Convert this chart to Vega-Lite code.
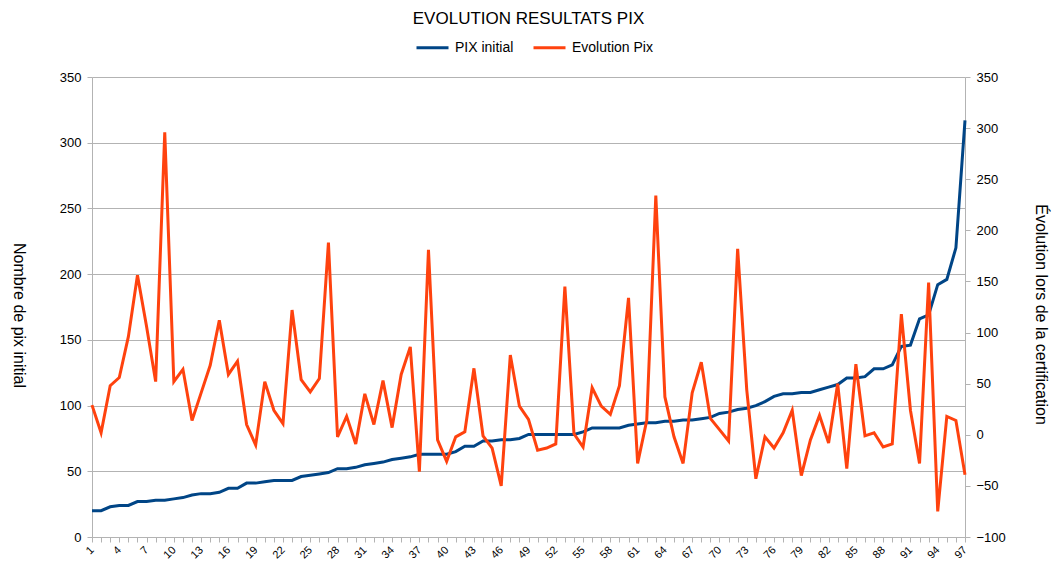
{
  "$schema": "https://vega.github.io/schema/vega-lite/v6.json",
  "width": 873,
  "height": 460,
  "autosize": {"type": "none"},
  "padding": {"left": 92, "top": 77, "right": 87, "bottom": 29},
  "background": "white",
  "config": {
    "font": "Liberation Sans",
    "view": {"stroke": null},
    "axis": {"labelFont": "Liberation Sans", "titleFont": "Liberation Sans", "labelColor": "#000000", "titleColor": "#000000", "titleFontWeight": "normal", "domainColor": "#b3b3b3", "tickColor": "#b3b3b3", "gridColor": "#b3b3b3", "gridOpacity": 1}
  },
  "title": {"text": "EVOLUTION RESULTATS PIX", "font": "Liberation Sans", "fontSize": 17, "fontWeight": "normal", "color": "#000000", "anchor": "middle", "offset": 2},
  "data": {"values": [
    {"n":1,"pix":20,"evo":29},{"n":2,"pix":20,"evo":2},{"n":3,"pix":23,"evo":48},{"n":4,"pix":24,"evo":56},{"n":5,"pix":24,"evo":96},
    {"n":6,"pix":27,"evo":156},{"n":7,"pix":27,"evo":106},{"n":8,"pix":28,"evo":52},{"n":9,"pix":28,"evo":296},{"n":10,"pix":29,"evo":52},
    {"n":11,"pix":30,"evo":64},{"n":12,"pix":32,"evo":14},{"n":13,"pix":33,"evo":41},{"n":14,"pix":33,"evo":68},{"n":15,"pix":34,"evo":112},
    {"n":16,"pix":37,"evo":59},{"n":17,"pix":37,"evo":72},{"n":18,"pix":41,"evo":10},{"n":19,"pix":41,"evo":-10},{"n":20,"pix":42,"evo":52},
    {"n":21,"pix":43,"evo":24},{"n":22,"pix":43,"evo":11},{"n":23,"pix":43,"evo":122},{"n":24,"pix":46,"evo":54},{"n":25,"pix":47,"evo":42},
    {"n":26,"pix":48,"evo":55},{"n":27,"pix":49,"evo":188},{"n":28,"pix":52,"evo":-2},{"n":29,"pix":52,"evo":18},{"n":30,"pix":53,"evo":-9},
    {"n":31,"pix":55,"evo":40},{"n":32,"pix":56,"evo":10},{"n":33,"pix":57,"evo":53},{"n":34,"pix":59,"evo":7},{"n":35,"pix":60,"evo":59},
    {"n":36,"pix":61,"evo":86},{"n":37,"pix":63,"evo":-36},{"n":38,"pix":63,"evo":181},{"n":39,"pix":63,"evo":-5},{"n":40,"pix":63,"evo":-26},
    {"n":41,"pix":65,"evo":-2},{"n":42,"pix":69,"evo":3},{"n":43,"pix":69,"evo":65},{"n":44,"pix":73,"evo":-1},{"n":45,"pix":73,"evo":-13},
    {"n":46,"pix":74,"evo":-50},{"n":47,"pix":74,"evo":78},{"n":48,"pix":75,"evo":28},{"n":49,"pix":78,"evo":15},{"n":50,"pix":78,"evo":-15},
    {"n":51,"pix":78,"evo":-13},{"n":52,"pix":78,"evo":-9},{"n":53,"pix":78,"evo":145},{"n":54,"pix":78,"evo":1},{"n":55,"pix":80,"evo":-12},
    {"n":56,"pix":83,"evo":46},{"n":57,"pix":83,"evo":28},{"n":58,"pix":83,"evo":20},{"n":59,"pix":83,"evo":48},{"n":60,"pix":85,"evo":134},
    {"n":61,"pix":86,"evo":-28},{"n":62,"pix":87,"evo":14},{"n":63,"pix":87,"evo":234},{"n":64,"pix":88,"evo":37},{"n":65,"pix":88,"evo":-2},
    {"n":66,"pix":89,"evo":-28},{"n":67,"pix":89,"evo":41},{"n":68,"pix":90,"evo":71},{"n":69,"pix":91,"evo":16},{"n":70,"pix":94,"evo":5},
    {"n":71,"pix":95,"evo":-6},{"n":72,"pix":97,"evo":182},{"n":73,"pix":98,"evo":44},{"n":74,"pix":100,"evo":-43},{"n":75,"pix":103,"evo":-2},
    {"n":76,"pix":107,"evo":-13},{"n":77,"pix":109,"evo":2},{"n":78,"pix":109,"evo":24},{"n":79,"pix":110,"evo":-40},{"n":80,"pix":110,"evo":-5},
    {"n":81,"pix":112,"evo":19},{"n":82,"pix":114,"evo":-8},{"n":83,"pix":116,"evo":50},{"n":84,"pix":121,"evo":-33},{"n":85,"pix":121,"evo":69},
    {"n":86,"pix":122,"evo":-1},{"n":87,"pix":128,"evo":2},{"n":88,"pix":128,"evo":-12},{"n":89,"pix":131,"evo":-9},{"n":90,"pix":145,"evo":118},
    {"n":91,"pix":146,"evo":24},{"n":92,"pix":166,"evo":-28},{"n":93,"pix":169,"evo":149},{"n":94,"pix":192,"evo":-75},{"n":95,"pix":196,"evo":18},
    {"n":96,"pix":220,"evo":14},{"n":97,"pix":317,"evo":-39}
  ]},
  "encoding": {
    "x": {"field": "n", "type": "ordinal", "sort": "ascending",
      "scale": {"type": "point", "padding": 0},
      "axis": {"title": null, "labelAngle": -45, "labelAlign": "right", "labelBaseline": "middle", "labelFontSize": 11, "labelOverlap": false, "labelExpr": "(datum.value - 1) % 3 === 0 ? datum.label : ''", "tickSize": 5, "labelPadding": 6, "grid": false}}
  },
  "layer": [
    {
      "mark": {"type": "line", "strokeWidth": 3},
      "encoding": {
        "y": {"field": "pix", "type": "quantitative", "scale": {"domain": [0, 350], "nice": false},
          "axis": {"orient": "left", "title": "Nombre de pix initial", "titleFontSize": 16, "titleAngle": 90, "titleX": -74, "titleY": 238, "titleAlign": "center", "titleBaseline": "middle", "values": [0,50,100,150,200,250,300,350], "labelFontSize": 13, "tickSize": 5, "labelPadding": 6, "grid": true}},
        "color": {"datum": "PIX initial", "type": "nominal",
          "scale": {"domain": ["PIX initial", "Evolution Pix"], "range": ["#004586", "#ff420e"]},
          "legend": {"title": null, "orient": "none", "legendX": 323, "legendY": -47, "direction": "horizontal", "symbolType": "stroke", "symbolSize": 1024, "symbolStrokeWidth": 3, "labelFontSize": 14, "labelFont": "Liberation Sans", "labelColor": "#000000", "labelOffset": 5, "columnPadding": 13}}
      }
    },
    {
      "mark": {"type": "line", "strokeWidth": 3},
      "encoding": {
        "y": {"field": "evo", "type": "quantitative", "scale": {"domain": [-100, 350], "nice": false, "zero": false},
          "axis": {"orient": "right", "title": "Évolution lors de la certification", "titleFontSize": 16, "titleAngle": 90, "titleX": 75, "titleY": 237, "titleAlign": "center", "titleBaseline": "middle", "values": [-100,-50,0,50,100,150,200,250,300,350], "labelFontSize": 13, "tickSize": 5, "labelPadding": 6, "grid": false}},
        "color": {"datum": "Evolution Pix", "type": "nominal"}
      }
    }
  ],
  "resolve": {"scale": {"y": "independent"}, "axis": {"y": "independent"}}
}
